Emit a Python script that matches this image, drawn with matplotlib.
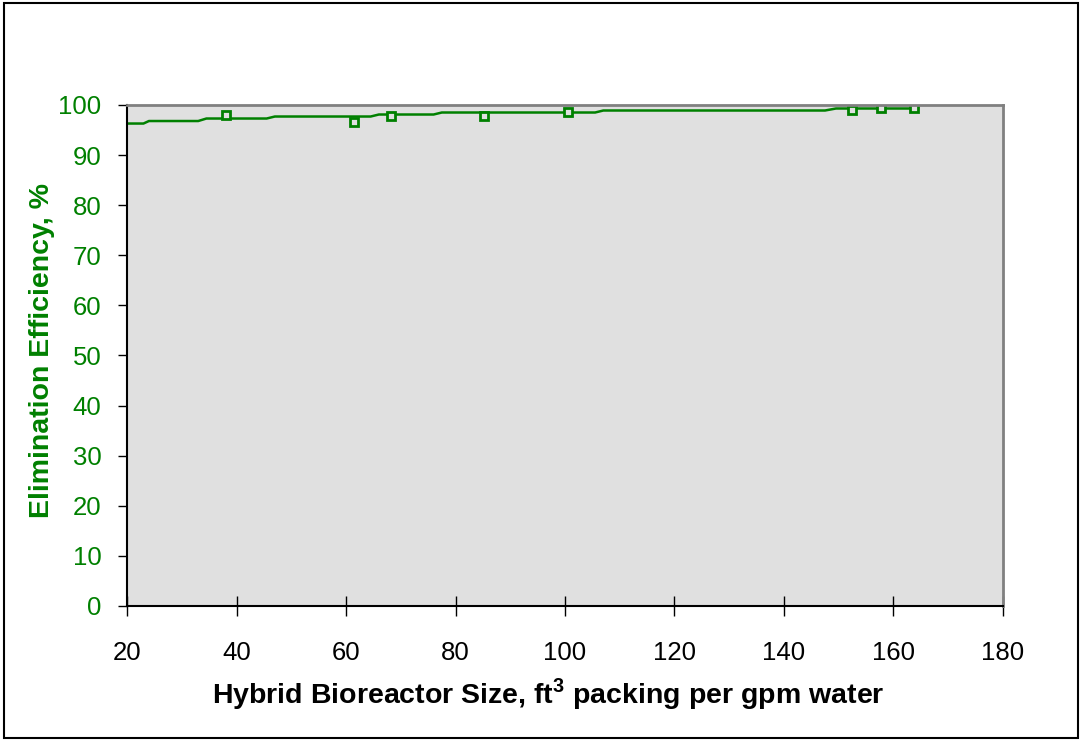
import numpy as np
import matplotlib
matplotlib.use("Agg")
import matplotlib.pyplot as plt
from matplotlib.patches import Rectangle

plt.rcParams['font.family'] = ['Liberation Sans', 'DejaVu Sans']
plt.rcParams['mathtext.fontset'] = 'custom'
plt.rcParams['mathtext.rm'] = 'Liberation Sans'
plt.rcParams['mathtext.bf'] = 'Liberation Sans:bold'

# measured points
size_pts = [38.1, 61.5, 68.3, 85.2, 100.5, 152.4, 157.8, 163.7]
eff_pts = [98.0, 96.7, 97.9, 97.8, 98.6, 99.0, 99.4, 99.4]

# fitted (stepwise) curve
size_fit = [20, 23.0, 24.0, 33.0, 34.5, 45.5, 47.0, 64.5, 66.0, 76.0, 77.5,
            105.5, 107.0, 147.5, 149.5, 164.0]
eff_fit = [96.3, 96.3, 96.8, 96.8, 97.3, 97.3, 97.7, 97.7, 98.1, 98.1, 98.5,
           98.5, 98.9, 98.9, 99.3, 99.3]

green = '#008000'

fig = plt.figure(figsize=(10.83, 7.42), dpi=100)
fig.patches.append(Rectangle((0.004, 0.006), 0.991, 0.99, transform=fig.transFigure,
                             fill=False, edgecolor='black', linewidth=1.5))
ax = fig.add_axes([0.1173, 0.1833, 0.8088, 0.6752])
ax.set_facecolor('#e0e0e0')

ax.plot(size_fit, eff_fit, color=green, linewidth=1.8)
ax.plot(size_pts, eff_pts, linestyle='none', marker='s', markersize=5.5,
        markerfacecolor='#e0e0e0', markeredgecolor=green, markeredgewidth=2)

ax.set_xlim(20, 180)
ax.set_ylim(0, 100)
ax.set_xticks(np.arange(20, 181, 20))
ax.set_yticks(np.arange(0, 101, 10))

for s in ['top', 'right']:
    ax.spines[s].set_color('#808080')
    ax.spines[s].set_linewidth(2)
for s in ['left', 'bottom']:
    ax.spines[s].set_color('black')
    ax.spines[s].set_linewidth(1.5)

ax.tick_params(axis='x', direction='inout', length=14, width=1, labelsize=18.5,
               pad=18, colors='black')
ax.tick_params(axis='y', direction='out', length=6.5, width=1, labelsize=18.5,
               pad=12, labelcolor=green)

ax.set_xlabel(r'Hybrid Bioreactor Size, ft$^{\mathbf{3}}$ packing per gpm water',
              fontsize=20.5, fontweight='bold', labelpad=8)
ax.set_ylabel('Elimination Efficiency, %', fontsize=20.5, fontweight='bold',
              color=green, labelpad=2)
ax.xaxis.label.set_x(0.4806)
ax.yaxis.label.set_y(0.51)

fig.savefig('out.png', dpi=100)
